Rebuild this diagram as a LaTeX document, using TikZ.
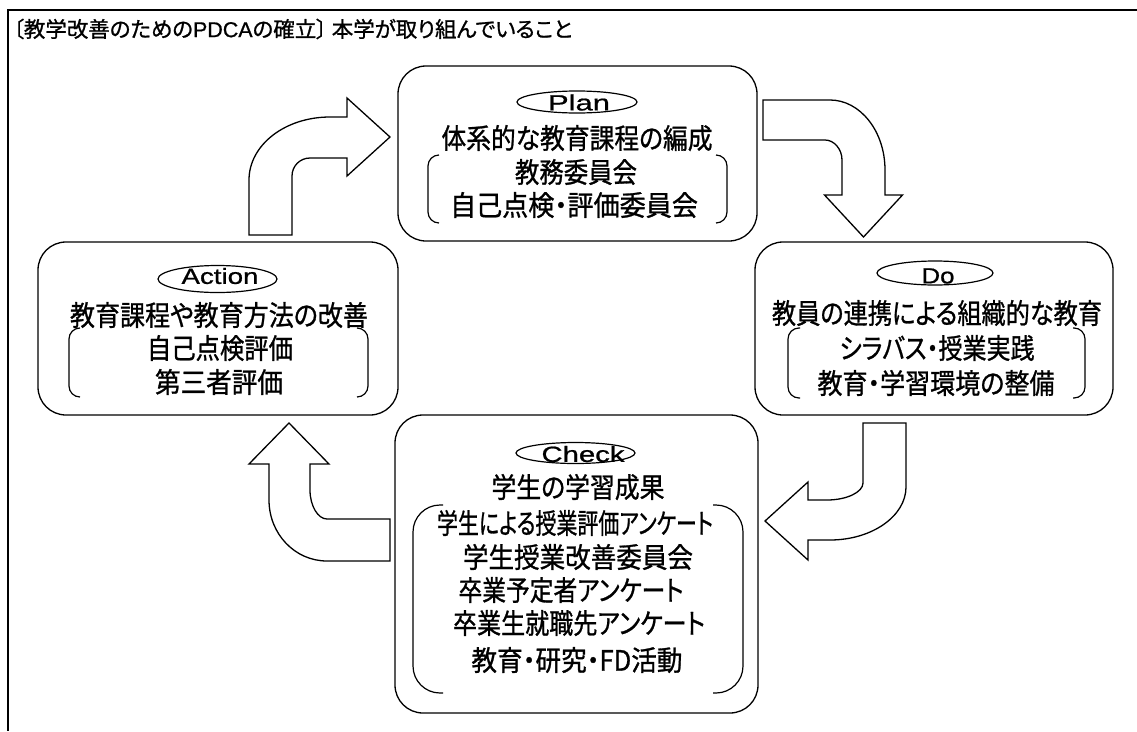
\documentclass[tikz,border=0pt]{standalone}
\usepackage{fontspec}
\usepackage{graphicx}
\setmainfont{Noto Sans CJK JP}[RawFeature=+palt, FakeBold=1.0]
\newfontfamily\lat{Liberation Sans}[FakeBold=0.8]
\newfontfamily\latn{Liberation Sans}[FakeBold=0.8]
\usetikzlibrary{shapes.geometric}
\newcommand\fw[2]{\resizebox{#1pt}{\height}{#2}}
\tikzset{
  box/.style={draw, line width=1.3pt, rounded corners=28pt, rectangle, inner sep=0pt},
  blockarrow/.style={draw, line width=1.3pt, fill=white, line join=miter},
  brk/.style={line width=1.2pt},
  tag/.style={ellipse, draw, line width=1.2pt, inner sep=0pt},
  lbl/.style={font=\lat\fontsize{22}{22}\selectfont, text height=15.8pt, text depth=0pt, inner sep=0pt},
  jt/.style={font=\fontsize{28}{28}\selectfont, text height=23.2pt, text depth=1.9pt, inner sep=0pt},
  ttl/.style={font=\fontsize{21.5}{21.5}\selectfont, text height=17.8pt, text depth=1.5pt, inner sep=0pt, anchor=west},
  frame/.style={line width=2.2pt}
}
\begin{document}
\begin{tikzpicture}[x=1pt,y=-1pt]
\useasboundingbox (0,0) rectangle (1137,731);
% outer frame (cropped)
\coordinate (fa) at (1137,10);
\coordinate (fb) at (8,10);
\coordinate (fc) at (8,731);
\draw[frame] (fa) -- (fb) -- (fc);
% title
\node[ttl] (title) at (13,29) {\fw{559}{〔教学改善のための{\latn PDCA}の確立〕 本学が取り組んでいること}};

% boxes
\node[box, minimum width=359pt, minimum height=175pt] (plan) at (577.5,153.5) {};
\node[box, minimum width=360pt, minimum height=173pt] (action) at (218,328.5) {};
\node[box, minimum width=358pt, minimum height=173pt] (do) at (934,328.5) {};
\node[box, minimum width=363pt, minimum height=298pt] (check) at (576.5,564) {};

% tags
\node[tag, minimum width=120pt, minimum height=22pt] (planE) at (577,102) {};
\node[lbl] (planL) at (579,102.5) {\fw{62}{Plan}};
\node[tag, minimum width=119pt, minimum height=27pt] (actE) at (217.5,279) {};
\node[lbl] (actL) at (220,276) {\fw{77}{Action}};
\node[tag, minimum width=116pt, minimum height=24pt] (doE) at (935,273) {};
\node[lbl] (doL) at (938,275.5) {\fw{33}{Do}};
\node[tag, minimum width=119pt, minimum height=21pt] (chkE) at (575.5,453) {};
\node[lbl] (chkL) at (583,454) {\fw{83}{Check}};

% Plan text
\node[jt] (p1) at (577,138) {\fw{271}{体系的な教育課程の編成}};
\node[jt] (p2) at (576,172) {\fw{122}{教務委員会}};
\node[jt] (p3) at (574,205) {\fw{248}{自己点検・評価委員会}};
% Action text
\node[jt] (a1) at (219,315) {\fw{298}{教育課程や教育方法の改善}};
\node[jt] (a2) at (220,348) {\fw{146}{自己点検評価}};
\node[jt] (a3) at (219,382) {\fw{128}{第三者評価}};
% Do text
\node[jt] (d1) at (937,313) {\fw{330}{教員の連携による組織的な教育}};
\node[jt] (d2) at (937,348) {\fw{195}{シラバス・授業実践}};
\node[jt] (d3) at (936,383) {\fw{237}{教育・学習環境の整備}};
% Check text
\node[jt] (c1) at (578,487) {\fw{173}{学生の学習成果}};
\node[jt] (c2) at (575,523) {\fw{276}{学生による授業評価アンケート}};
\node[jt] (c3) at (578,557) {\fw{230}{学生授業改善委員会}};
\node[jt] (c4) at (571,590) {\fw{225}{卒業予定者アンケート}};
\node[jt] (c5) at (579,623) {\fw{252}{卒業生就職先アンケート}};
\node[jt] (c6) at (577,660) {\fw{211}{教育・研究・FD活動}};

% brackets
\draw[brk, rounded corners=11pt] (439,155) -- (428,155) -- (428,223) -- (439,223);
\draw[brk, rounded corners=11pt] (716,155) -- (727,155) -- (727,223) -- (716,223);
\draw[brk, rounded corners=11pt] (80,328) -- (69,328) -- (69,397) -- (80,397);
\draw[brk, rounded corners=11pt] (357,328) -- (368,328) -- (368,397) -- (357,397);
\draw[brk, rounded corners=11pt] (800,328) -- (788,328) -- (788,398) -- (800,398);
\draw[brk, rounded corners=11pt] (1073,328) -- (1085,328) -- (1085,398) -- (1073,398);
\draw[brk, rounded corners=27pt] (443,505) -- (413,505) -- (413,693) -- (443,693);
\draw[brk, rounded corners=27pt] (713,505) -- (743,505) -- (743,693) -- (713,693);

% block arrows
% Action -> Plan
\draw[blockarrow] (249,235) -- (249,180)
  .. controls (249,145) and (285,117) .. (330,117)
  -- (347,117) -- (347,98) -- (390,137) -- (347,176) -- (347,158) -- (310,158)
  .. controls (300,158) and (292,166) .. (292,176)
  -- (292,235) -- cycle;
% Plan -> Do
\draw[blockarrow] (763,100) -- (830,100)
  .. controls (860,100) and (885,131) .. (885,170)
  -- (885,195) -- (902.5,195) -- (863.5,237) -- (824.5,195) -- (842,195) -- (842,160)
  .. controls (842,149) and (834,140) .. (825,140)
  -- (763,140) -- cycle;
% Do -> Check
\draw[blockarrow] (863,423) -- (906,423) -- (906,487)
  .. controls (906,516) and (872,540) .. (830,540)
  -- (808,540) -- (808,560) -- (765,521) -- (808,482) -- (808,500) -- (827,500)
  .. controls (847,500) and (863,492) .. (863,483)
  -- cycle;
% Check -> Action
\draw[blockarrow] (390,519) -- (390,561) -- (327,561)
  .. controls (295,561) and (269,534) .. (269,500)
  -- (269,464) -- (249,464) -- (289,423) -- (329,464) -- (310,464) -- (310,490)
  .. controls (310,506) and (318,519) .. (327,519)
  -- cycle;
\end{tikzpicture}
\end{document}
